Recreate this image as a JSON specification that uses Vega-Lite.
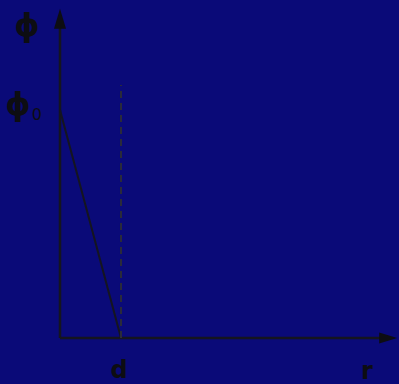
{
  "$schema": "https://vega.github.io/schema/vega-lite/v6.json",
  "width": 399,
  "height": 384,
  "padding": 0,
  "autosize": {"type": "none"},
  "background": "#0a0a78",
  "config": {"view": {"stroke": null}},
  "datasets": {
    "yAxisLine": [{"r": 0, "phi": 0}, {"r": 0, "phi": 1.4}],
    "xAxisLine": [{"r": 0, "phi": 0}, {"r": 5.36, "phi": 0}],
    "potential": [{"r": 0, "phi": 1.0}, {"r": 1.0, "phi": 0}],
    "boundary": [{"r": 1.0, "phi": 0}, {"r": 1.0, "phi": 1.11}],
    "yArrow": [{"r": 0, "phi": 1.40}],
    "xArrow": [{"r": 5.38, "phi": 0}],
    "symbols": [
      {"r": -0.54, "phi": 1.37, "text": "ɸ"},
      {"r": -0.69, "phi": 1.02, "text": "ɸ"}
    ],
    "axisNames": [
      {"r": 0.967, "phi": -0.176, "text": "d"},
      {"r": 5.03, "phi": -0.18, "text": "r"}
    ],
    "subscripts": [{"r": -0.38, "phi": 0.98, "text": "0"}]
  },
  "encoding": {
    "x": {"field": "r", "type": "quantitative", "scale": {"domain": [-0.9836, 5.5574], "nice": false, "zero": false}, "axis": null},
    "y": {"field": "phi", "type": "quantitative", "scale": {"domain": [-0.2018, 1.4825], "nice": false, "zero": false}, "axis": null}
  },
  "layer": [
    {"data": {"name": "yAxisLine"}, "mark": {"type": "line", "color": "#15151f", "strokeWidth": 2.5}},
    {"data": {"name": "xAxisLine"}, "mark": {"type": "line", "color": "#15151f", "strokeWidth": 2.5}},
    {"data": {"name": "potential"}, "mark": {"type": "line", "color": "#15151f", "strokeWidth": 2}},
    {"data": {"name": "boundary"}, "mark": {"type": "line", "color": "#2a2a3a", "strokeWidth": 2, "strokeDash": [7, 5]}},
    {"data": {"name": "yArrow"}, "mark": {"type": "point", "shape": "M0,-1L0.6,1L-0.6,1Z", "size": 400, "filled": true, "color": "#0d0d12", "opacity": 1}},
    {"data": {"name": "xArrow"}, "mark": {"type": "point", "shape": "M1,0L-1,-0.6L-1,0.6Z", "size": 324, "filled": true, "color": "#0d0d12", "opacity": 1}},
    {"data": {"name": "symbols"}, "mark": {"type": "text", "font": "DejaVu Sans", "fontWeight": "bold", "fontSize": 32, "color": "#0d0d12", "align": "center", "baseline": "middle"},
      "encoding": {"text": {"field": "text"}}},
    {"data": {"name": "axisNames"}, "mark": {"type": "text", "font": "DejaVu Sans", "fontWeight": "bold", "fontSize": 24, "color": "#0d0d12", "align": "center", "baseline": "alphabetic"},
      "encoding": {"text": {"field": "text"}}},
    {"data": {"name": "subscripts"}, "mark": {"type": "text", "font": "DejaVu Sans", "fontSize": 16, "color": "#0d0d12", "align": "center", "baseline": "middle"},
      "encoding": {"text": {"field": "text"}}}
  ]
}
